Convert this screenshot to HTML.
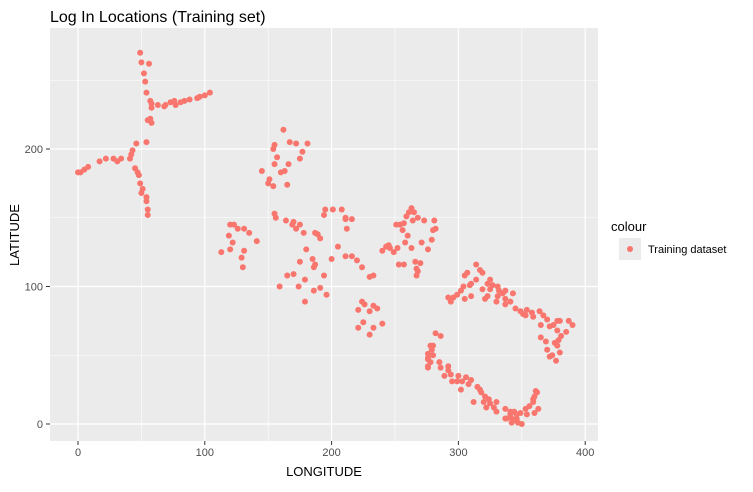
<!DOCTYPE html>
<html><head><meta charset="utf-8"><style>
body{margin:0;background:#fff;font-family:"Liberation Sans",sans-serif}
svg text{font-family:"Liberation Sans",sans-serif}
</style></head><body>
<svg id="chart" width="753" height="487">
<text x="50" y="22" font-size="16" fill="#000">Log In Locations (Training set)</text>
<rect x="50" y="28" width="548" height="413" fill="#EBEBEB"/>
<g id="grid"></g><g id="ticks"></g><g id="pts"></g>
<text x="324" y="476" font-size="13" text-anchor="middle">LONGITUDE</text>
<text x="0" y="0" font-size="13" text-anchor="middle" transform="translate(19,235) rotate(-90)">LATITUDE</text>
<g>
<text x="611" y="231" font-size="13">colour</text>
<rect x="619" y="238" width="22" height="22" fill="#EBEBEB"/>
<circle cx="630" cy="249" r="3" fill="#F8766D"/>
<text x="648" y="253" font-size="11">Training dataset</text>
</g>
</svg>
<script>
const xTicks=[0,100,200,300,400];
const yTicks=[0,100,200];
const lon=[49,50,56,52,53,54,57,58,58,63,57,55,58,68,69,73,76,77,81,84,88,94,96,100,104,
46,54,43,42,41,34,31,28,22,17,8,5,2,0,45,47,48,49,51,50,54,54,55,55,
162,167,172,181,155,154,177,157,175,155,166,160,163,145,151,150,154,165,
120,123,126,131,135,119,141,122,120,131,113,129,130,
155,156,164,170,175,169,172,178,187,189,191,180,175,185,187,186,170,179,194,165,191,196,186,179,174,159,
195,201,208,211,211,216,212,194,205,200,211,216,220,224,230,233,
224,226,233,236,230,221,225,240,221,233,230,
263,261,265,259,268,264,257,251,254,256,260,273,281,282,280,279,276,258,271,245,243,246,249,240,252,253,257,266,270,267,268,267,263,
314,307,305,317,319,314,310,304,302,299,296,294,292,305,309,310,325,323,327,325,331,332,331,335,337,330,337,341,343,337,323,321,319,
345,353,349,351,354,358,359,364,365,367,370,372,375,378,380,387,390,385,378,381,379,376,378,380,372,374,377,370,369,365,
282,286,278,280,279,280,276,276,276,278,276,276,285,286,292,292,289,294,295,300,306,308,302,315,317,318,321,312,320,324,325,322,328,330,330,337,341,341,338,344,346,349,353,356,359,359,360,361,362,363,360,347,346,350,344,354,342,337,342,303,310,299];
const lat=[270,263,262,255,249,241,235,233,230,232,222,221,219,231,232,234,235,232,234,235,236,237,238,239,241,
204,205,199,196,193,193,191,193,193,191,187,185,183,183,186,183,181,175,171,168,165,162,156,152,
214,205,204,204,203,200,198,194,193,189,189,183,184,184,178,175,173,174,
145,145,142,142,139,137,133,132,127,126,125,121,114,
153,150,148,147,145,145,142,139,139,138,135,127,118,120,116,114,109,105,108,108,99,94,97,89,100,100,
156,156,156,150,149,149,142,152,129,120,122,122,119,114,107,108,
89,87,86,84,82,83,74,73,70,70,65,
157,154,154,151,150,148,146,145,145,141,137,148,148,142,141,134,127,132,132,130,129,128,125,126,128,116,116,118,117,113,111,108,128,
116,110,108,112,110,105,102,100,97,94,92,89,92,91,101,93,105,102,101,98,100,97,93,95,91,89,87,89,95,97,93,91,98,
84,79,82,80,83,81,78,82,72,79,76,71,72,75,75,75,72,67,68,64,61,59,57,52,49,50,46,54,60,63,
66,64,57,57,54,50,51,48,47,45,42,41,45,41,42,39,35,36,31,35,34,29,25,27,25,23,20,16,16,18,15,12,12,16,9,11,9,7,4,9,7,8,11,13,16,18,20,24,23,11,8,1,4,0,3,7,4,4,1,31,32,31];
const X=v=>78+v*1.268, Y=v=>424-v*1.375;
const NS='http://www.w3.org/2000/svg';
const grid=document.getElementById('grid'),ticks=document.getElementById('ticks'),pts=document.getElementById('pts');
function ln(g,x1,y1,x2,y2,c,w){const l=document.createElementNS(NS,'line');l.setAttribute('x1',x1);l.setAttribute('y1',y1);l.setAttribute('x2',x2);l.setAttribute('y2',y2);l.setAttribute('stroke',c);l.setAttribute('stroke-width',w);g.appendChild(l);return l;}
function tx(g,x,y,s,a){const t=document.createElementNS(NS,'text');t.setAttribute('x',x);t.setAttribute('y',y);t.setAttribute('font-size','11');t.setAttribute('fill','#4D4D4D');t.setAttribute('text-anchor',a);t.textContent=s;g.appendChild(t);return t;}
for(let i=0;i<xTicks.length;i++){const v=xTicks[i];
 if(i<xTicks.length-1){const m=ln(grid,X(v+50),28,X(v+50),441,'#fff',0.6);}
 const g=ln(grid,X(v),28,X(v),441,'#fff',1.2);
 const t=ln(ticks,X(v),441,X(v),445,'#333',1);
 const l=tx(ticks,X(v),456,String(v),'middle');}
for(let i=0;i<yTicks.length;i++){const v=yTicks[i];
 const m=ln(grid,50,Y(v+50),598,Y(v+50),'#fff',0.6);
 const g=ln(grid,50,Y(v),598,Y(v),'#fff',1.2);
 const t=ln(ticks,46,Y(v),50,Y(v),'#333',1);
 const l=tx(ticks,43,Y(v)+4,String(v),'end');}
const n=Math.min(lon.length,lat.length);
for(let i=0;i<n;i++){const c=document.createElementNS(NS,'circle');c.setAttribute('cx',X(lon[i]));c.setAttribute('cy',Y(lat[i]));c.setAttribute('r',3);c.setAttribute('fill','#F8766D');
 
 
 pts.appendChild(c);}
</script>
</body></html>
